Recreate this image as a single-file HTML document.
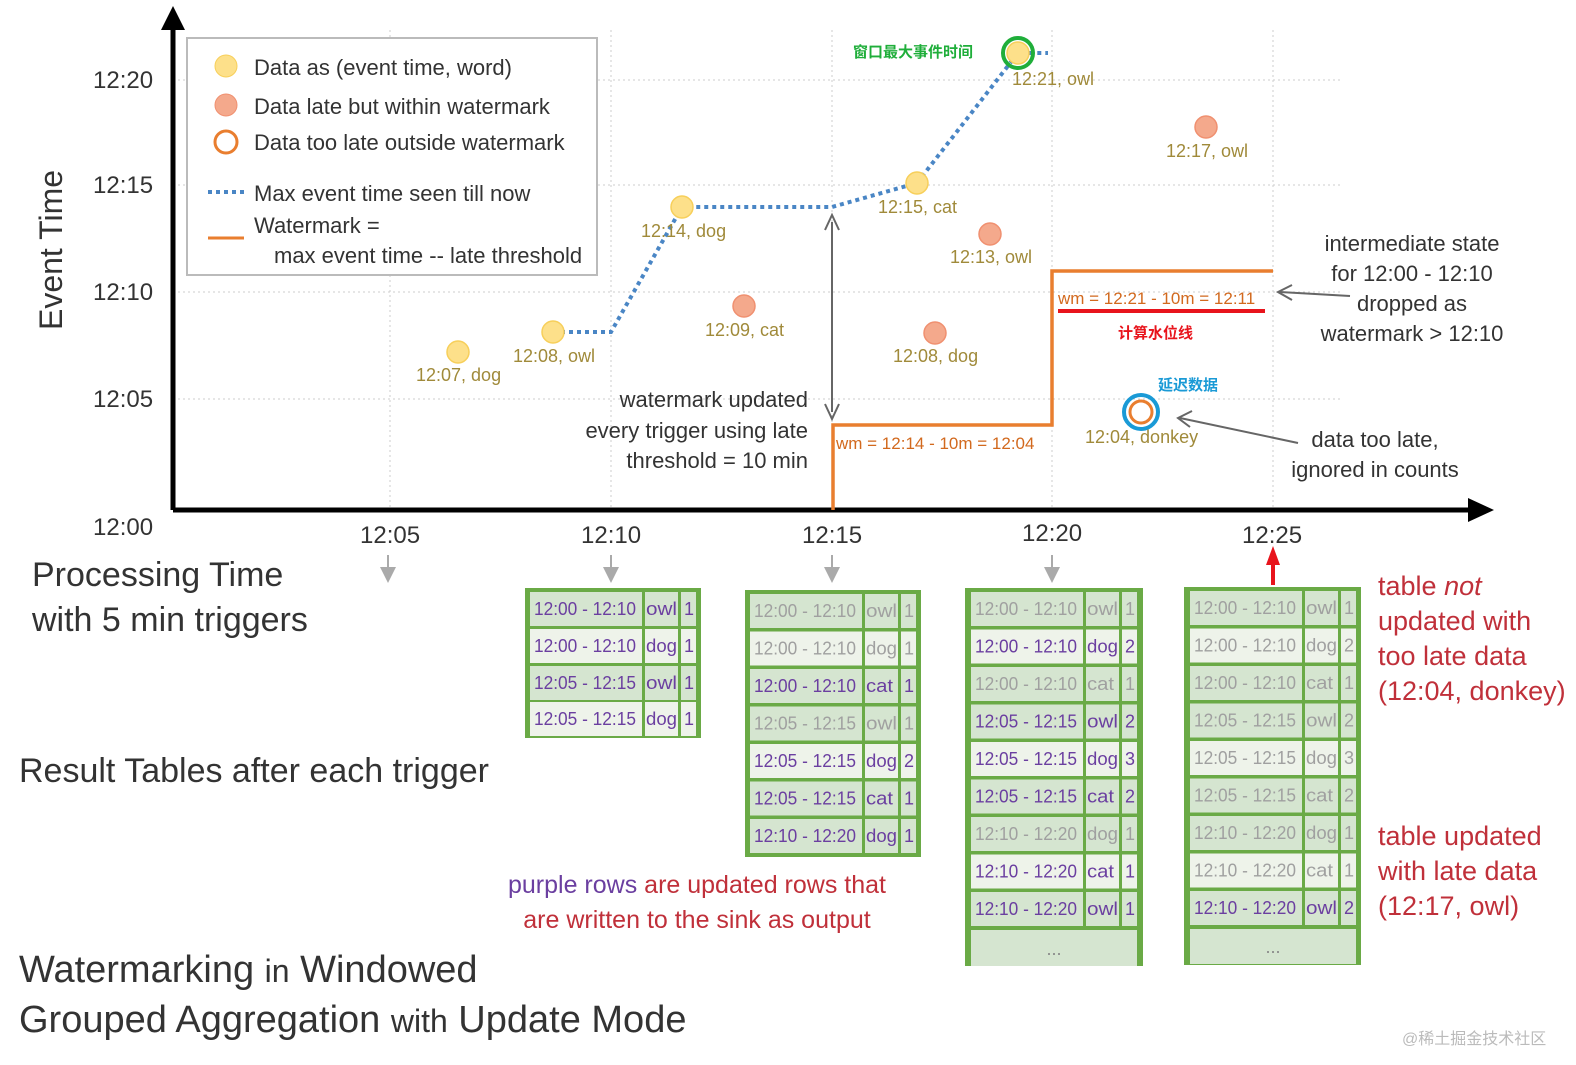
<!DOCTYPE html>
<html><head><meta charset="utf-8"><style>
body{margin:0;background:#fff}
svg text{font-family:"Liberation Sans","Noto Sans CJK SC",sans-serif}
.r text{font-size:18px}
.p text{fill:#6b3fa0}.q text{fill:#a0a0a0}
.d use{fill:#d5e5d0}.l use{fill:#eef3ea}
</style></head><body>
<svg width="1576" height="1060" viewBox="0 0 1576 1060" xmlns="http://www.w3.org/2000/svg">
<defs>
<g id="cells"><rect x="5" y="2" width="112" height="34"/><rect x="120" y="2" width="33" height="34"/><rect x="156" y="2" width="15" height="34"/></g>
</defs>
<g stroke="#ccc" stroke-dasharray="2,3" stroke-width="1">
<line x1="390" y1="30" x2="390" y2="510"/><line x1="611" y1="30" x2="611" y2="510"/>
<line x1="832" y1="30" x2="832" y2="510"/><line x1="1052" y1="30" x2="1052" y2="510"/>
<line x1="1273" y1="30" x2="1273" y2="510"/>
<line x1="173" y1="80" x2="1340" y2="80"/><line x1="173" y1="185" x2="1340" y2="185"/>
<line x1="173" y1="292" x2="1340" y2="292"/><line x1="173" y1="399" x2="1340" y2="399"/>
</g>
<line x1="173" y1="510" x2="173" y2="25" stroke="#000" stroke-width="5"/>
<path d="M161,30L173,6L185,30z" fill="#000"/>
<line x1="173" y1="510" x2="1475" y2="510" stroke="#000" stroke-width="5"/>
<path d="M1468,498L1494,510L1468,522z" fill="#000"/>
<g font-size="24" fill="#333">
<text x="93" y="88">12:20</text><text x="93" y="193">12:15</text><text x="93" y="300">12:10</text><text x="93" y="407">12:05</text><text x="93" y="535">12:00</text>
<text x="360" y="543">12:05</text><text x="581" y="543">12:10</text><text x="802" y="543">12:15</text><text x="1022" y="541">12:20</text><text x="1242" y="543">12:25</text>
</g>
<text transform="translate(62,330) rotate(-90)" font-size="32" fill="#333">Event Time</text>
<g fill="#aaa"><path d="M380,567L396,567L388,583z"/><path d="M603,567L619,567L611,583z"/><path d="M824,567L840,567L832,583z"/><path d="M1044,567L1060,567L1052,583z"/></g>
<g stroke="#aaa" stroke-width="2"><line x1="388" y1="555" x2="388" y2="570"/><line x1="611" y1="555" x2="611" y2="570"/><line x1="832" y1="555" x2="832" y2="570"/><line x1="1052" y1="555" x2="1052" y2="570"/></g>
<path d="M1266,565L1280,565L1273,546z" fill="#e8141c"/><line x1="1273" y1="560" x2="1273" y2="585" stroke="#e8141c" stroke-width="4"/>
<rect x="187" y="38" width="410" height="237" fill="#fff" stroke="#bbb" stroke-width="2"/>
<circle cx="226" cy="66" r="11" fill="#fde08a" stroke="#f7cf5a"/>
<circle cx="226" cy="105" r="11" fill="#f4a98c" stroke="#f09070"/>
<circle cx="226" cy="142" r="11" fill="none" stroke="#e97e2f" stroke-width="3"/>
<line x1="208" y1="192" x2="244" y2="192" stroke="#4a86c5" stroke-width="4" stroke-dasharray="4,4"/>
<line x1="208" y1="238" x2="244" y2="238" stroke="#e97e2f" stroke-width="3"/>
<g font-size="22" fill="#333">
<text x="254" y="75">Data as (event time, word)</text>
<text x="254" y="114">Data late but within watermark</text>
<text x="254" y="150">Data too late outside watermark</text>
<text x="254" y="201">Max event time seen till now</text>
<text x="254" y="233">Watermark =</text>
<text x="274" y="263">max event time -- late threshold</text>
</g>
<polyline points="553,332 611,332 682,207 832,207 917,183 1018,53 1048,53" fill="none" stroke="#4a86c5" stroke-width="4" stroke-dasharray="4,4"/>
<polyline points="833,510 833,425 1052,425 1052,271 1273,271" fill="none" stroke="#e97e2f" stroke-width="3.5"/>
<line x1="832" y1="222" x2="832" y2="412" stroke="#666" stroke-width="2"/>
<path d="M825,230L832,215L839,230" fill="none" stroke="#666" stroke-width="2"/>
<path d="M825,404L832,419L839,404" fill="none" stroke="#666" stroke-width="2"/>
<g fill="#fde08a" stroke="#f7cf5a" stroke-width="1.5">
<circle cx="458" cy="352" r="11"/><circle cx="553" cy="332" r="11"/><circle cx="682" cy="207" r="11"/><circle cx="917" cy="183" r="11"/><circle cx="1018" cy="53" r="11"/></g>
<circle cx="1018" cy="53" r="15" fill="none" stroke="#1fae3a" stroke-width="4"/>
<g fill="#f4a98c" stroke="#f09070" stroke-width="1.5">
<circle cx="744" cy="306" r="11"/><circle cx="990" cy="234" r="11"/><circle cx="935" cy="333" r="11"/><circle cx="1206" cy="127" r="11"/></g>
<circle cx="1141" cy="412" r="11" fill="#fff" stroke="#e97e2f" stroke-width="3"/>
<circle cx="1141" cy="412" r="17" fill="none" stroke="#1a9ad6" stroke-width="4"/>
<g font-size="18" fill="#a08a3a">
<text x="416" y="381">12:07, dog</text><text x="513" y="362">12:08, owl</text><text x="641" y="237">12:14, dog</text>
<text x="878" y="213">12:15, cat</text><text x="1012" y="85">12:21, owl</text><text x="705" y="336">12:09, cat</text>
<text x="950" y="263">12:13, owl</text><text x="893" y="362">12:08, dog</text><text x="1166" y="157">12:17, owl</text>
<text x="1085" y="443">12:04, donkey</text>
</g>
<g font-size="17" fill="#d2691e"><text x="836" y="449">wm = 12:14 - 10m = 12:04</text><text x="1058" y="304">wm = 12:21 - 10m = 12:11</text></g>
<line x1="1058" y1="311" x2="1265" y2="311" stroke="#e8141c" stroke-width="4"/>
<g font-size="15" font-weight="bold">
<text x="853" y="57" fill="#1fae3a">窗口最大事件时间</text>
<text x="1118" y="338" fill="#e8141c">计算水位线</text>
<text x="1158" y="390" fill="#1a9ad6">延迟数据</text>
</g>
<g font-size="22" fill="#333" text-anchor="end">
<text x="808" y="407">watermark updated</text><text x="808" y="438">every trigger using late</text><text x="808" y="468">threshold = 10 min</text>
</g>
<g font-size="22" fill="#333" text-anchor="middle">
<text x="1412" y="251">intermediate state</text><text x="1412" y="281">for 12:00 - 12:10</text><text x="1412" y="311">dropped as</text><text x="1412" y="341">watermark &gt; 12:10</text>
<text x="1375" y="447">data too late,</text><text x="1375" y="477">ignored in counts</text>
</g>
<line x1="1350" y1="296" x2="1280" y2="292" stroke="#666" stroke-width="2"/><path d="M1292,285L1278,292L1292,300" fill="none" stroke="#666" stroke-width="2"/>
<line x1="1298" y1="443" x2="1180" y2="418" stroke="#666" stroke-width="2"/><path d="M1192,411L1178,418L1190,427" fill="none" stroke="#666" stroke-width="2"/>
<g font-size="34" fill="#333">
<text x="32" y="586">Processing Time</text><text x="32" y="631">with 5 min triggers</text>
<text x="19" y="782">Result Tables after each trigger</text>
<text x="19" y="982" font-size="38">Watermarking <tspan font-size="32">in</tspan> Windowed</text>
<text x="19" y="1032" font-size="38">Grouped Aggregation <tspan font-size="32">with</tspan> Update Mode</text>
</g>
<g font-size="25" text-anchor="middle" fill="#c0303a">
<text x="697" y="893"><tspan fill="#6b3fa0">purple rows</tspan> are updated rows that</text>
<text x="697" y="928">are written to the sink as output</text>
</g>
<g font-size="27" fill="#c0303a">
<text x="1378" y="595">table <tspan font-style="italic">not</tspan></text><text x="1378" y="630">updated with</text><text x="1378" y="665">too late data</text><text x="1378" y="700">(12:04, donkey)</text>
<text x="1378" y="845">table updated</text><text x="1378" y="880">with late data</text><text x="1378" y="915">(12:17, owl)</text>
</g>
<text x="1402" y="1044" font-size="16" fill="#bbb">@稀土掘金技术社区</text>

<!-- TABLE 1 -->
<rect x="525" y="588" width="176" height="150" fill="#6aaa46"/>
<g class="r d p" transform="translate(525,590)"><use href="#cells"/><text x="9" y="25" textLength="102" lengthAdjust="spacingAndGlyphs">12:00 - 12:10</text><text x="121" y="25" textLength="31" lengthAdjust="spacingAndGlyphs">owl</text><text x="159" y="25">1</text></g>
<g class="r l p" transform="translate(525,627)"><use href="#cells"/><text x="9" y="25" textLength="102" lengthAdjust="spacingAndGlyphs">12:00 - 12:10</text><text x="121" y="25" textLength="31" lengthAdjust="spacingAndGlyphs">dog</text><text x="159" y="25">1</text></g>
<g class="r d p" transform="translate(525,664)"><use href="#cells"/><text x="9" y="25" textLength="102" lengthAdjust="spacingAndGlyphs">12:05 - 12:15</text><text x="121" y="25" textLength="31" lengthAdjust="spacingAndGlyphs">owl</text><text x="159" y="25">1</text></g>
<g class="r l p" transform="translate(525,700)"><use href="#cells"/><text x="9" y="25" textLength="102" lengthAdjust="spacingAndGlyphs">12:05 - 12:15</text><text x="121" y="25" textLength="31" lengthAdjust="spacingAndGlyphs">dog</text><text x="159" y="25">1</text></g>

<!-- TABLE 2 -->
<rect x="745" y="590" width="176" height="267" fill="#6aaa46"/>
<g class="r d q" transform="translate(745,592)"><use href="#cells"/><text x="9" y="25" textLength="102" lengthAdjust="spacingAndGlyphs">12:00 - 12:10</text><text x="121" y="25" textLength="31" lengthAdjust="spacingAndGlyphs">owl</text><text x="159" y="25">1</text></g>
<g class="r l q" transform="translate(745,629.5)"><use href="#cells"/><text x="9" y="25" textLength="102" lengthAdjust="spacingAndGlyphs">12:00 - 12:10</text><text x="121" y="25" textLength="31" lengthAdjust="spacingAndGlyphs">dog</text><text x="159" y="25">1</text></g>
<g class="r d p" transform="translate(745,667)"><use href="#cells"/><text x="9" y="25" textLength="102" lengthAdjust="spacingAndGlyphs">12:00 - 12:10</text><text x="121" y="25" textLength="27" lengthAdjust="spacingAndGlyphs">cat</text><text x="159" y="25">1</text></g>
<g class="r d q" transform="translate(745,704.5)"><use href="#cells"/><text x="9" y="25" textLength="102" lengthAdjust="spacingAndGlyphs">12:05 - 12:15</text><text x="121" y="25" textLength="31" lengthAdjust="spacingAndGlyphs">owl</text><text x="159" y="25">1</text></g>
<g class="r l p" transform="translate(745,742)"><use href="#cells"/><text x="9" y="25" textLength="102" lengthAdjust="spacingAndGlyphs">12:05 - 12:15</text><text x="121" y="25" textLength="31" lengthAdjust="spacingAndGlyphs">dog</text><text x="159" y="25">2</text></g>
<g class="r d p" transform="translate(745,779.5)"><use href="#cells"/><text x="9" y="25" textLength="102" lengthAdjust="spacingAndGlyphs">12:05 - 12:15</text><text x="121" y="25" textLength="27" lengthAdjust="spacingAndGlyphs">cat</text><text x="159" y="25">1</text></g>
<g class="r d p" transform="translate(745,817)"><use href="#cells"/><text x="9" y="25" textLength="102" lengthAdjust="spacingAndGlyphs">12:10 - 12:20</text><text x="121" y="25" textLength="31" lengthAdjust="spacingAndGlyphs">dog</text><text x="159" y="25">1</text></g>

<!-- TABLE 3 -->
<rect x="965" y="588" width="178" height="378" fill="#6aaa46"/>
<g class="r d q" transform="translate(966,590)"><use href="#cells"/><text x="9" y="25" textLength="102" lengthAdjust="spacingAndGlyphs">12:00 - 12:10</text><text x="121" y="25" textLength="31" lengthAdjust="spacingAndGlyphs">owl</text><text x="159" y="25">1</text></g>
<g class="r l p" transform="translate(966,627.5)"><use href="#cells"/><text x="9" y="25" textLength="102" lengthAdjust="spacingAndGlyphs">12:00 - 12:10</text><text x="121" y="25" textLength="31" lengthAdjust="spacingAndGlyphs">dog</text><text x="159" y="25">2</text></g>
<g class="r d q" transform="translate(966,665)"><use href="#cells"/><text x="9" y="25" textLength="102" lengthAdjust="spacingAndGlyphs">12:00 - 12:10</text><text x="121" y="25" textLength="27" lengthAdjust="spacingAndGlyphs">cat</text><text x="159" y="25">1</text></g>
<g class="r d p" transform="translate(966,702.5)"><use href="#cells"/><text x="9" y="25" textLength="102" lengthAdjust="spacingAndGlyphs">12:05 - 12:15</text><text x="121" y="25" textLength="31" lengthAdjust="spacingAndGlyphs">owl</text><text x="159" y="25">2</text></g>
<g class="r l p" transform="translate(966,740)"><use href="#cells"/><text x="9" y="25" textLength="102" lengthAdjust="spacingAndGlyphs">12:05 - 12:15</text><text x="121" y="25" textLength="31" lengthAdjust="spacingAndGlyphs">dog</text><text x="159" y="25">3</text></g>
<g class="r d p" transform="translate(966,777.5)"><use href="#cells"/><text x="9" y="25" textLength="102" lengthAdjust="spacingAndGlyphs">12:05 - 12:15</text><text x="121" y="25" textLength="27" lengthAdjust="spacingAndGlyphs">cat</text><text x="159" y="25">2</text></g>
<g class="r d q" transform="translate(966,815)"><use href="#cells"/><text x="9" y="25" textLength="102" lengthAdjust="spacingAndGlyphs">12:10 - 12:20</text><text x="121" y="25" textLength="31" lengthAdjust="spacingAndGlyphs">dog</text><text x="159" y="25">1</text></g>
<g class="r l p" transform="translate(966,852.5)"><use href="#cells"/><text x="9" y="25" textLength="102" lengthAdjust="spacingAndGlyphs">12:10 - 12:20</text><text x="121" y="25" textLength="27" lengthAdjust="spacingAndGlyphs">cat</text><text x="159" y="25">1</text></g>
<g class="r d p" transform="translate(966,890)"><use href="#cells"/><text x="9" y="25" textLength="102" lengthAdjust="spacingAndGlyphs">12:10 - 12:20</text><text x="121" y="25" textLength="31" lengthAdjust="spacingAndGlyphs">owl</text><text x="159" y="25">1</text></g>
<rect x="971" y="930" width="166" height="36" fill="#d5e5d0"/><text x="1054" y="955" text-anchor="middle" font-size="18" fill="#888">...</text>

<!-- TABLE 4 -->
<rect x="1184" y="587" width="177" height="378" fill="#6aaa46"/>
<g class="r d q" transform="translate(1185,589)"><use href="#cells"/><text x="9" y="25" textLength="102" lengthAdjust="spacingAndGlyphs">12:00 - 12:10</text><text x="121" y="25" textLength="31" lengthAdjust="spacingAndGlyphs">owl</text><text x="159" y="25">1</text></g>
<g class="r l q" transform="translate(1185,626.5)"><use href="#cells"/><text x="9" y="25" textLength="102" lengthAdjust="spacingAndGlyphs">12:00 - 12:10</text><text x="121" y="25" textLength="31" lengthAdjust="spacingAndGlyphs">dog</text><text x="159" y="25">2</text></g>
<g class="r d q" transform="translate(1185,664)"><use href="#cells"/><text x="9" y="25" textLength="102" lengthAdjust="spacingAndGlyphs">12:00 - 12:10</text><text x="121" y="25" textLength="27" lengthAdjust="spacingAndGlyphs">cat</text><text x="159" y="25">1</text></g>
<g class="r d q" transform="translate(1185,701.5)"><use href="#cells"/><text x="9" y="25" textLength="102" lengthAdjust="spacingAndGlyphs">12:05 - 12:15</text><text x="121" y="25" textLength="31" lengthAdjust="spacingAndGlyphs">owl</text><text x="159" y="25">2</text></g>
<g class="r l q" transform="translate(1185,739)"><use href="#cells"/><text x="9" y="25" textLength="102" lengthAdjust="spacingAndGlyphs">12:05 - 12:15</text><text x="121" y="25" textLength="31" lengthAdjust="spacingAndGlyphs">dog</text><text x="159" y="25">3</text></g>
<g class="r d q" transform="translate(1185,776.5)"><use href="#cells"/><text x="9" y="25" textLength="102" lengthAdjust="spacingAndGlyphs">12:05 - 12:15</text><text x="121" y="25" textLength="27" lengthAdjust="spacingAndGlyphs">cat</text><text x="159" y="25">2</text></g>
<g class="r d q" transform="translate(1185,814)"><use href="#cells"/><text x="9" y="25" textLength="102" lengthAdjust="spacingAndGlyphs">12:10 - 12:20</text><text x="121" y="25" textLength="31" lengthAdjust="spacingAndGlyphs">dog</text><text x="159" y="25">1</text></g>
<g class="r l q" transform="translate(1185,851.5)"><use href="#cells"/><text x="9" y="25" textLength="102" lengthAdjust="spacingAndGlyphs">12:10 - 12:20</text><text x="121" y="25" textLength="27" lengthAdjust="spacingAndGlyphs">cat</text><text x="159" y="25">1</text></g>
<g class="r d p" transform="translate(1185,889)"><use href="#cells"/><text x="9" y="25" textLength="102" lengthAdjust="spacingAndGlyphs">12:10 - 12:20</text><text x="121" y="25" textLength="31" lengthAdjust="spacingAndGlyphs">owl</text><text x="159" y="25">2</text></g>
<rect x="1190" y="929" width="166" height="35" fill="#d5e5d0"/><text x="1273" y="953" text-anchor="middle" font-size="18" fill="#888">...</text>
</svg>
</body></html>
